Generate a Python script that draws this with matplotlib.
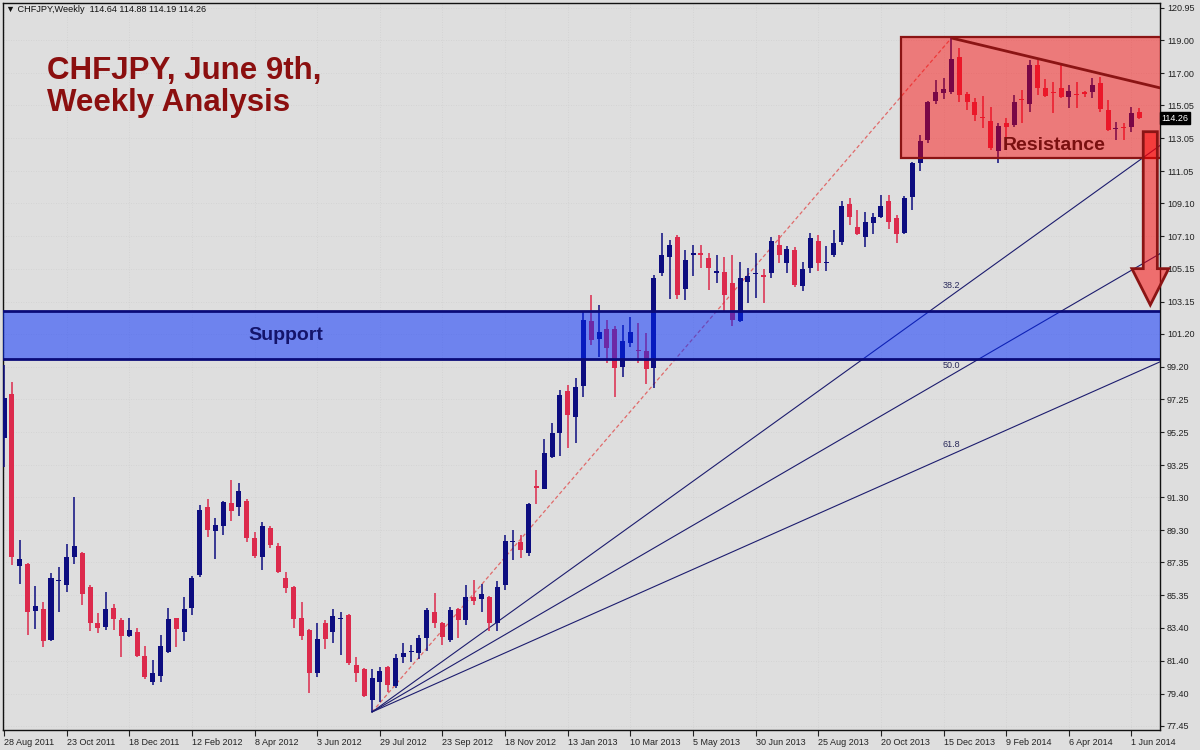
import numpy as np
import matplotlib
matplotlib.use("Agg")
import matplotlib.pyplot as plt
import matplotlib.transforms as mtransforms
from matplotlib.patches import Rectangle, Polygon

# CHFJPY weekly candles, one per week starting 28 Aug 2011
opens = [94.88, 97.55, 87.13, 87.25, 84.40, 84.52, 82.64, 86.22, 85.98, 87.67,
         87.91, 85.85, 83.67, 83.43, 84.58, 83.85, 82.88, 83.13, 81.67, 80.10,
         80.46, 81.91, 83.97, 83.13, 84.58, 86.58, 90.70, 89.25, 89.55, 90.94,
         90.70, 91.04, 88.82, 87.67, 89.43, 88.34, 86.40, 85.85, 83.97, 83.25,
         80.64, 83.67, 83.13, 83.90, 84.16, 81.13, 80.88, 79.01, 80.10, 81.01,
         79.85, 81.61, 81.92, 81.85, 82.76, 84.34, 83.67, 82.64, 84.52, 83.85,
         85.25, 85.13, 85.25, 83.67, 85.98, 88.58, 88.58, 87.91, 91.97, 91.79,
         93.73, 95.19, 97.73, 96.16, 98.04, 102.00, 100.88, 101.49, 101.49, 99.19,
         100.64, 100.22, 100.16, 99.13, 104.88, 105.85, 107.07, 103.91, 106.00, 106.10,
         105.80, 104.88, 104.94, 104.28, 101.98, 104.34, 104.80, 104.79, 104.88, 106.58,
         105.49, 106.28, 104.10, 105.19, 106.82, 105.50, 105.97, 106.76, 109.07, 107.67,
         107.07, 107.91, 108.28, 109.25, 108.22, 107.31, 109.49, 111.55, 112.94, 115.31,
         115.79, 115.85, 117.98, 115.73, 115.25, 114.34, 114.10, 112.28, 113.97, 113.85,
         115.40, 115.13, 117.49, 116.10, 115.85, 116.10, 115.55, 115.73, 115.85, 115.85,
         116.40, 114.76, 113.61, 113.70, 113.73, 114.64]
highs = [99.30, 98.28, 88.70, 87.31, 85.92, 84.95, 86.70, 87.07, 88.46, 91.31,
         87.95, 85.95, 84.28, 85.55, 84.82, 84.00, 83.97, 83.37, 82.28, 81.43,
         82.95, 84.58, 84.00, 85.25, 86.50, 90.80, 91.19, 90.04, 91.07, 92.34,
         92.16, 91.16, 89.19, 89.79, 89.55, 88.52, 86.76, 85.91, 84.95, 83.30,
         83.67, 83.85, 84.52, 84.34, 84.20, 81.61, 80.94, 80.88, 81.00, 81.07,
         81.79, 82.46, 82.34, 82.95, 84.58, 85.49, 83.73, 84.64, 84.58, 85.98,
         86.28, 86.04, 85.30, 86.22, 89.01, 89.31, 89.00, 90.94, 92.95, 94.82,
         95.79, 97.79, 98.10, 98.52, 102.52, 103.55, 102.95, 102.04, 101.67, 101.73,
         102.22, 101.85, 101.25, 104.76, 107.31, 106.88, 107.20, 106.28, 106.58, 106.58,
         106.10, 105.97, 105.85, 105.97, 105.55, 105.19, 106.10, 105.10, 107.07, 107.20,
         106.52, 106.46, 105.55, 107.31, 107.20, 106.52, 107.49, 109.25, 109.43, 108.70,
         108.58, 108.52, 109.60, 109.60, 108.40, 109.55, 111.60, 113.25, 115.31, 116.58,
         116.70, 119.13, 118.52, 115.85, 115.49, 115.61, 114.94, 113.97, 114.28, 115.67,
         115.97, 117.79, 117.79, 116.64, 116.46, 117.60, 116.28, 116.46, 115.91, 116.70,
         116.76, 115.37, 114.04, 113.97, 114.94, 114.88]
lows = [93.13, 87.19, 86.02, 82.95, 83.31, 82.22, 82.58, 84.34, 85.55, 87.25,
        84.76, 83.19, 83.07, 83.25, 83.25, 81.61, 82.82, 81.60, 80.30, 79.91,
        80.10, 81.85, 82.22, 82.58, 84.16, 86.45, 88.88, 87.55, 89.01, 89.85,
        90.16, 88.58, 87.61, 86.88, 88.22, 86.70, 85.48, 83.37, 82.64, 79.43,
        80.40, 82.10, 82.46, 81.73, 81.13, 80.10, 79.19, 78.28, 78.88, 79.49,
        79.73, 81.25, 81.31, 81.49, 81.98, 83.37, 82.34, 82.52, 82.76, 83.55,
        84.76, 84.34, 83.19, 83.19, 85.67, 87.49, 87.61, 87.73, 90.90, 91.79,
        93.67, 93.79, 94.28, 94.58, 97.37, 100.52, 99.79, 99.43, 97.37, 98.58,
        100.40, 99.43, 98.16, 97.91, 104.70, 103.30, 103.30, 103.25, 104.70, 105.20,
        103.85, 104.28, 102.52, 101.67, 101.90, 103.06, 103.37, 103.06, 104.58, 105.49,
        104.88, 104.04, 103.79, 104.88, 105.00, 105.00, 105.85, 106.58, 107.79, 107.20,
        106.46, 107.25, 108.22, 107.55, 106.70, 107.25, 108.70, 111.07, 112.76, 115.13,
        115.43, 115.73, 115.25, 114.76, 114.10, 113.67, 112.34, 111.55, 113.00, 113.73,
        113.97, 114.64, 115.67, 115.55, 114.58, 115.50, 114.88, 114.88, 115.55, 115.49,
        114.64, 113.50, 112.94, 112.94, 113.43, 114.19]
closes = [97.31, 87.67, 87.55, 84.34, 84.70, 82.58, 86.40, 86.30, 87.67, 88.34,
          85.43, 83.67, 83.37, 84.52, 83.91, 82.88, 83.25, 81.67, 80.40, 80.64,
          82.28, 83.91, 83.31, 84.52, 86.40, 90.52, 89.31, 89.61, 91.00, 90.46,
          91.67, 88.82, 87.73, 89.55, 88.40, 86.76, 85.79, 83.91, 82.88, 80.64,
          82.70, 82.70, 84.10, 83.97, 81.25, 80.64, 79.25, 80.34, 80.76, 79.91,
          81.55, 81.85, 81.97, 82.76, 84.46, 83.67, 82.82, 84.46, 83.85, 85.25,
          85.00, 85.43, 83.67, 85.85, 88.64, 88.64, 88.10, 90.87, 91.84, 93.97,
          95.19, 97.49, 96.28, 97.97, 102.04, 100.82, 101.31, 100.34, 99.13, 100.76,
          101.31, 100.16, 99.07, 104.58, 105.97, 106.58, 103.55, 105.67, 106.10, 105.98,
          105.20, 105.00, 103.55, 102.04, 104.58, 104.70, 104.85, 104.67, 106.82, 105.97,
          106.34, 104.16, 105.13, 107.00, 105.49, 105.55, 106.70, 108.94, 108.28, 107.25,
          107.97, 108.28, 108.94, 107.97, 107.25, 109.43, 111.55, 112.88, 115.25, 115.85,
          116.04, 117.85, 115.67, 115.25, 114.46, 114.28, 112.46, 113.79, 113.73, 115.25,
          115.37, 117.49, 116.10, 115.61, 115.80, 115.55, 115.91, 115.67, 115.73, 116.28,
          114.82, 113.55, 113.67, 113.67, 114.58, 114.26]

date_labels = ["28 Aug 2011", "23 Oct 2011", "18 Dec 2011", "12 Feb 2012", "8 Apr 2012",
               "3 Jun 2012", "29 Jul 2012", "23 Sep 2012", "18 Nov 2012", "13 Jan 2013",
               "10 Mar 2013", "5 May 2013", "30 Jun 2013", "25 Aug 2013", "20 Oct 2013",
               "15 Dec 2013", "9 Feb 2014", "6 Apr 2014", "1 Jun 2014"]
price_ticks = [120.95, 119.00, 117.00, 115.05, 113.05, 111.05, 109.10, 107.10, 105.15,
               103.15, 101.20, 99.20, 97.25, 95.25, 93.25, 91.30, 89.30, 87.35, 85.35,
               83.40, 81.40, 79.40, 77.45]

support_zone = (99.67, 102.58)
resistance_zone = (111.85, 119.19)
resistance_start = 114.6          # week index where the red box begins
fan_low_week, fan_high_week = 47, 121
fib_levels = [38.2, 50.0, 61.8]
trend_end = (147.7, 116.1)
arrow_week, arrow_top, arrow_tip = 146.4, 113.45, 102.95
last_price = 114.26

BG = "#dedede"
BULL = "#0d0d80"
BEAR = "#dc2a4c"
DARK_RED = "#8b1414"

fig = plt.figure(figsize=(12, 7.5), dpi=100, facecolor=BG)
ax = fig.add_axes([3 / 1200, 20 / 750, 1157 / 1200, 727 / 750], facecolor=BG)
ax.set_xlim(-0.13, 147.64)
ax.set_ylim(77.19, 121.25)

# faint MT4 style grid
ax.set_yticks(price_ticks)
ax.set_xticks(np.arange(0, 8 * len(date_labels), 8))
ax.grid(True, color="#d0d0d0", linestyle=(0, (1, 2)), linewidth=0.6, zorder=0)

# candles
o, h, l, c = map(np.array, (opens, highs, lows, closes))
x = np.arange(len(o))
colors = np.where(c >= o, BULL, BEAR)
ax.vlines(x, l, h, colors=colors, linewidth=1.1, zorder=3)
ax.bar(x, np.maximum(np.abs(c - o), 0.08), bottom=np.minimum(o, c), width=0.64,
       color=colors, linewidth=0, zorder=3)

# fibonacci fan from the 2012 low to the Dec 2013 high
p_low, p_high = lows[fan_low_week], highs[fan_high_week]
x_end = ax.get_xlim()[1]
ax.plot([fan_low_week, fan_high_week], [p_low, p_high], color="#e06a6a",
        linewidth=0.9, linestyle=(0, (3, 2)), zorder=2)
for lev in fib_levels:
    target = p_high - lev / 100 * (p_high - p_low)
    slope = (target - p_low) / (fan_high_week - fan_low_week)
    ax.plot([fan_low_week, x_end], [p_low, p_low + slope * (x_end - fan_low_week)],
            color="#1c1c6e", linewidth=0.8, zorder=2)
    ax.text(fan_high_week, target + 0.6, f"{lev:.1f}", fontsize=6.5, color="#2a2a5a",
            ha="center", va="center", family="Liberation Sans", zorder=6)

# zones drawn over the candles
ax.add_patch(Rectangle((-1, support_zone[0]), 150, support_zone[1] - support_zone[0],
                       facecolor=(0.0, 0.16, 1.0, 0.5), edgecolor="#0a0a78",
                       linewidth=2, zorder=4))
ax.add_patch(Rectangle((resistance_start, resistance_zone[0]), 40,
                       resistance_zone[1] - resistance_zone[0],
                       facecolor=(1.0, 0.0, 0.0, 0.45), edgecolor=DARK_RED,
                       linewidth=1.6, zorder=4))
ax.plot([fan_high_week, trend_end[0]], [p_high, trend_end[1]], color=DARK_RED,
        linewidth=2, zorder=5, solid_capstyle="butt")

# down arrow
shaft, head, head_len = 0.9, 2.35, 2.2
ax.add_patch(Polygon([(arrow_week - shaft, arrow_top), (arrow_week + shaft, arrow_top),
                      (arrow_week + shaft, arrow_tip + head_len),
                      (arrow_week + head, arrow_tip + head_len),
                      (arrow_week, arrow_tip),
                      (arrow_week - head, arrow_tip + head_len),
                      (arrow_week - shaft, arrow_tip + head_len)],
                     closed=True, facecolor=(1.0, 0.0, 0.0, 0.5), edgecolor=DARK_RED,
                     linewidth=2, zorder=6, clip_on=False))

# labels
ax.text(36, sum(support_zone) / 2, "Support", fontsize=14, fontweight="bold",
        color="#14146b", ha="center", va="center", family="Liberation Sans", zorder=7)
ax.text(134.1, 112.6, "Resistance", fontsize=14, fontweight="bold",
        color="#7a1010", ha="center", va="center", family="Liberation Sans", zorder=7)
fig.text(47 / 1200, 1 - 79 / 750, "CHFJPY, June 9th,", fontsize=22.5, fontweight="bold",
         color="#8b0f0f", va="baseline", family="Liberation Sans")
fig.text(47 / 1200, 1 - 111 / 750, "Weekly Analysis", fontsize=22.5, fontweight="bold",
         color="#8b0f0f", va="baseline", family="Liberation Sans")
fig.text(6 / 1200, 1 - 9 / 750,
         f"\u25bc CHFJPY,Weekly  {opens[-1]:.2f} {highs[-1]:.2f} {lows[-1]:.2f} {closes[-1]:.2f}",
         fontsize=6.6, color="#111111", va="center",
         family=["Liberation Sans", "DejaVu Sans"])

# axes styling
for sp in ax.spines.values():
    sp.set_color("#111111")
    sp.set_linewidth(1)
ax.yaxis.tick_right()
ax.set_yticklabels([f"{v:.2f}" for v in price_ticks])
ax.tick_params(axis="y", length=3, pad=2, labelsize=6.5, colors="#222222")
ax.set_xticklabels(date_labels)
ax.tick_params(axis="x", length=4, pad=1.5, labelsize=6.5, colors="#222222")
for lab in ax.get_xticklabels() + ax.get_yticklabels():
    lab.set_family("Liberation Sans")
plt.setp(ax.get_xticklabels(), ha="left")

trans = mtransforms.blended_transform_factory(ax.transAxes, ax.transData)
ax.text(1.001, last_price, f"{last_price:.2f}", transform=trans, fontsize=6.5,
        color="white", va="center", ha="left", family="Liberation Sans", zorder=8,
        bbox=dict(boxstyle="square,pad=0.15", facecolor="black", edgecolor="black"))

fig.savefig("out.png", dpi=100, facecolor=BG)
